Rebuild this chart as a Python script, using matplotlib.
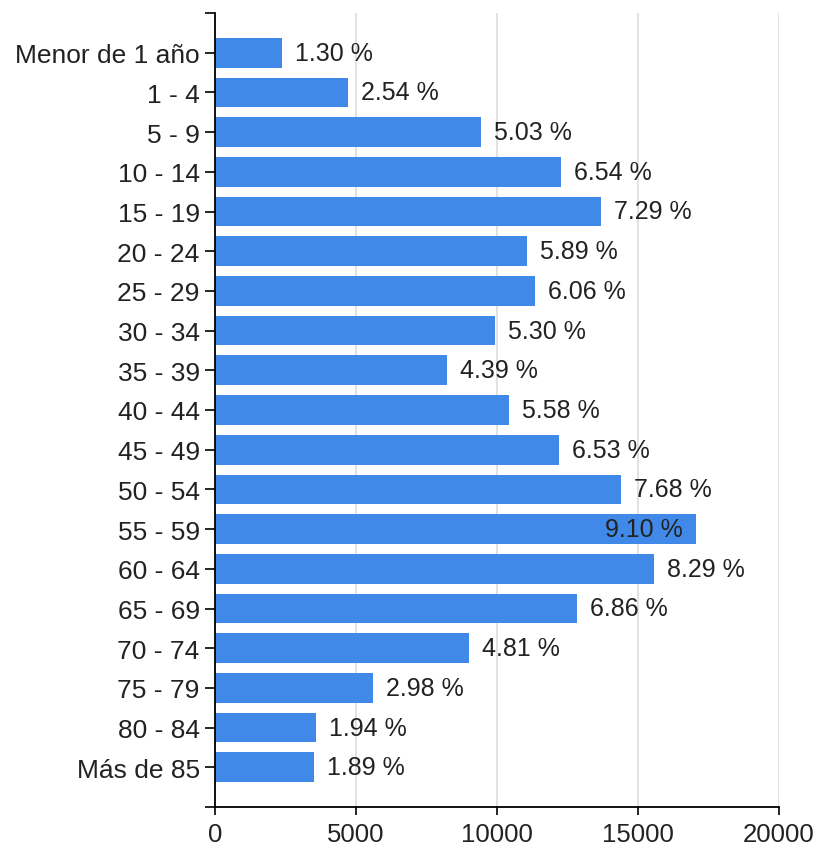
import matplotlib
matplotlib.use('Agg')
import matplotlib.pyplot as plt

# Age groups and population counts
groups = ['Menor de 1 año', '1 - 4', '5 - 9', '10 - 14', '15 - 19', '20 - 24',
          '25 - 29', '30 - 34', '35 - 39', '40 - 44', '45 - 49', '50 - 54',
          '55 - 59', '60 - 64', '65 - 69', '70 - 74', '75 - 79', '80 - 84',
          'Más de 85']
counts = [2384, 4722, 9431, 12278, 13700, 11068, 11352, 9929, 8221, 10427,
          12206, 14413, 17046, 15552, 12847, 9004, 5605, 3594, 3523]
percents = ['1.30 %', '2.54 %', '5.03 %', '6.54 %', '7.29 %', '5.89 %',
            '6.06 %', '5.30 %', '4.39 %', '5.58 %', '6.53 %', '7.68 %',
            '9.10 %', '8.29 %', '6.86 %', '4.81 %', '2.98 %', '1.94 %',
            '1.89 %']
xticks = [0, 5000, 10000, 15000, 20000]

plt.rcParams['font.family'] = ['Liberation Sans', 'DejaVu Sans']
plt.rcParams['font.size'] = 18

fig = plt.figure(figsize=(8.15, 8.54), dpi=100)
ax = fig.add_axes([215 / 815, 46 / 854, 564 / 815, 794 / 854])

n = len(groups)
pos = list(range(n))
ax.barh(pos, counts, height=0.75, color='#4189e8', zorder=2)

ax.set_xlim(0, 20000)
ax.set_ylim(n, -1)

# y ticks, with outer ticks at both ends of the axis
ax.set_yticks([-1] + pos + [n])
ax.set_yticklabels([''] + groups + [''], color='#222222', fontsize=19)
ax.set_xticks(xticks)
ax.set_xticklabels([str(t) for t in xticks], color='#222222', fontsize=18.5)
ax.tick_params(axis='y', length=7, width=1.2, pad=4)
ax.tick_params(axis='x', length=6, width=1.2, pad=5)

ax.grid(axis='x', color='#dddddd', linewidth=1.2, zorder=0)
ax.set_axisbelow(True)
for s in ['top', 'right']:
    ax.spines[s].set_visible(False)
for s in ['left', 'bottom']:
    ax.spines[s].set_linewidth(1.3)

# value labels: outside the bar, or inside when they would run past the axis
fig.canvas.draw()
renderer = fig.canvas.get_renderer()
ax_right = ax.get_window_extent(renderer).x1
off = 13 * 20000 / 564
for i, (v, lab) in enumerate(zip(counts, percents)):
    t = ax.text(v + off, i, lab, va='center', ha='left', color='#222222', zorder=3)
    if t.get_window_extent(renderer).x1 > ax_right:
        t.set_x(v - off)
        t.set_ha('right')

fig.savefig('out.png', dpi=100)
